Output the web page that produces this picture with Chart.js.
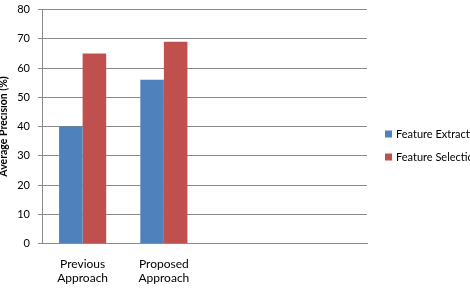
<!DOCTYPE html>
<html>
<head>
<meta charset="utf-8">
<script src="https://cdn.jsdelivr.net/npm/chart.js@4"></script>
<style>
html,body{margin:0;padding:0;background:#fff;overflow:hidden;}
#wrap{width:470px;height:288px;position:relative;}
</style>
</head>
<body>
<div id="wrap"><canvas id="c" width="470" height="288"></canvas></div>
<script>
const categories = [["Previous","Approach"],["Proposed","Approach"],"",""];
const seriesNames = ["Feature Extraction","Feature Selection"];
const featureExtraction = [40,56];
const featureSelection = [65,69];
const yTicks = [0,10,20,30,40,50,60,70,80];
const yTitle = "Average Precision (%)";

const FONT = "Lato, 'Open Sans', 'Liberation Sans', sans-serif";

const overlay = {
  id:'overlay',
  afterDraw(chart){
    const ctx = chart.ctx;
    const area = chart.chartArea;
    ctx.save();
    ctx.font = "bold 10.5px " + FONT;
    ctx.fillStyle = "#000";
    ctx.textAlign = "center";
    ctx.textBaseline = "middle";
    ctx.translate(4, (area.top+area.bottom)/2);
    ctx.rotate(-Math.PI/2);
    ctx.fillText(yTitle, 0, 0);
    ctx.restore();
    ctx.save();
    ctx.font = "11px " + FONT;
    ctx.textAlign = "left";
    ctx.textBaseline = "middle";
    chart.data.datasets.forEach((ds,i)=>{
      const y = 134 + i*23;
      ctx.fillStyle = ds.backgroundColor;
      ctx.fillRect(385, y-3.5, 7, 7);
      ctx.fillStyle = "#000";
      ctx.fillText(ds.label, 396, y);
    });
    ctx.restore();
  }
};

new Chart(document.getElementById('c'), {
  type:'bar',
  data:{
    labels: categories,
    datasets:[
      {label:seriesNames[0], data:featureExtraction, backgroundColor:'#4F81BD'},
      {label:seriesNames[1], data:featureSelection, backgroundColor:'#C0504D'}
    ]
  },
  options:{
    responsive:false,
    animation:false,
    layout:{padding:{top:9.5,right:103,left:0,bottom:0}},
    plugins:{legend:{display:false},tooltip:{enabled:false}},
    datasets:{bar:{categoryPercentage:0.58,barPercentage:1}},
    scales:{
      x:{
        grid:{display:false},
        border:{display:true,color:'#8a8a8a',width:1},
        ticks:{font:{family:FONT,size:12,lineHeight:1.15},color:'#000',maxRotation:0,autoSkip:false,padding:6},
        afterFit(s){s.height = 44.5; s.paddingLeft=0; s.paddingRight=0;}
      },
      y:{
        min:0,max:80,
        afterBuildTicks(s){ s.ticks = yTicks.map(v=>({value:v})); },
        grid:{color:'#8a8a8a',tickLength:4,lineWidth:1},
        border:{display:true,color:'#8a8a8a',width:1},
        ticks:{font:{family:FONT,size:11},color:'#000',padding:8},
        afterFit(s){s.width = 42; s.paddingTop=0; s.paddingBottom=0;}
      }
    }
  },
  plugins:[overlay]
});
</script>
</body>
</html>
